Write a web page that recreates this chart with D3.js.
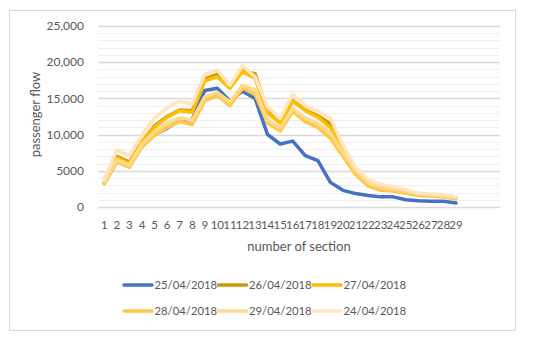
<!DOCTYPE html>
<html lang="en">
  <head>
    <meta charset="utf-8" />
    <title>passenger flow</title>
    <script src="https://cdnjs.cloudflare.com/ajax/libs/d3/7.8.5/d3.min.js"></script>
    <style>
      body { margin: 0; background: #fff; }
      text { font-family: Lato, "Open Sans", sans-serif; fill: #595959; }
    </style>
  </head>
  <body>
    <div id="chart"></div>
    <script>
    // sections 1..29
    var sections = d3.range(1, 30);
    var seriesNames = ["25/04/2018", "26/04/2018", "27/04/2018", "28/04/2018", "29/04/2018", "24/04/2018"];
    var seriesColors = ["#4472c4", "#c99a06", "#ffbf00", "#ffc845", "#ffd98c", "#ffe5c0"];
    var yTicks = [0, 5000, 10000, 15000, 20000, 25000];
    var yTickLabels = ["0", "5000", "10,000", "15,000", "20,000", "25,000"];

    var d25 = [3300, 6500, 5900, 8400, 10000, 10900, 11950, 12100, 16100, 16400, 14600, 16000, 15000, 10000, 8700, 9100, 7100, 6400, 3400, 2300, 1850, 1600, 1400, 1400, 1000, 870, 780, 780, 550];
    var d26 = [3300, 7000, 6200, 9000, 11200, 12500, 13400, 13300, 17700, 18300, 16600, 18800, 18400, 13300, 11800, 14700, 13400, 12600, 11500, 8000, 5100, 3400, 2800, 2600, 2200, 1800, 1700, 1600, 1300];
    var d27 = [3300, 6800, 6000, 9000, 11000, 12400, 13300, 13100, 17400, 18000, 16400, 18700, 17800, 13000, 11600, 14600, 13300, 12400, 11000, 7600, 4800, 3200, 2600, 2400, 2100, 1700, 1600, 1500, 1200];
    var d28 = [3200, 6200, 5500, 8300, 9900, 11000, 11800, 11400, 14700, 15400, 14000, 16400, 15600, 11600, 10500, 13200, 11800, 11000, 9500, 7000, 4500, 2900, 2300, 2200, 1900, 1600, 1500, 1400, 1100];
    var d29 = [3500, 6500, 5800, 8700, 10400, 11600, 12300, 12000, 15200, 15800, 14500, 16800, 16200, 12000, 10900, 13600, 12300, 11500, 10200, 7500, 5000, 3300, 2700, 2500, 2200, 1800, 1700, 1600, 1300];
    var d24 = [3800, 7900, 7100, 10000, 12300, 13700, 14600, 14200, 18300, 18900, 16800, 19500, 18000, 13800, 12200, 15600, 14000, 13200, 12300, 8500, 5500, 3800, 3100, 2800, 2400, 1900, 1800, 1700, 1400];
    var seriesValues = [d25, d26, d27, d28, d29, d24];

    var W = 550, H = 340;
    var margin = {top: 26, right: 50, bottom: 133, left: 98},
        width = W - margin.left - margin.right,
        height = H - margin.top - margin.bottom;

    var svg = d3.select("#chart")
      .append("svg")
        .attr("width", W)
        .attr("height", H);

    // outer frame
    svg.append("rect")
      .attr("x", 9.5).attr("y", 10.5)
      .attr("width", 506).attr("height", 320)
      .attr("fill", "#fff")
      .attr("stroke", "#d9d9d9");

    var g = svg.append("g")
      .attr("transform", "translate(" + margin.left + "," + margin.top + ")");

    // the category axis leaves room for 32 slots, only 29 are used
    var x = d3.scaleBand()
      .domain(sections)
      .range([0, width * 29 / 32]);

    var y = d3.scaleLinear()
      .domain([0, 25000])
      .range([height, 0]);

    // minor gridlines every 1000
    g.selectAll(".minor")
      .data(d3.range(1000, 25000, 1000).filter(function(v){ return v % 5000 != 0; }))
      .enter().append("line")
        .attr("x1", 0).attr("x2", width)
        .attr("y1", function(d){ return Math.round(y(d)) + 0.5; })
        .attr("y2", function(d){ return Math.round(y(d)) + 0.5; })
        .attr("stroke", "#efefef");

    g.selectAll(".major")
      .data(yTicks)
      .enter().append("line")
        .attr("x1", 0).attr("x2", width)
        .attr("y1", function(d){ return Math.round(y(d)) + 0.5; })
        .attr("y2", function(d){ return Math.round(y(d)) + 0.5; })
        .attr("stroke", "#d9d9d9")
        .attr("stroke-width", 1.3);

    // y tick labels
    g.selectAll(".ylab")
      .data(yTicks)
      .enter().append("text")
        .attr("x", -14)
        .attr("y", function(d){ return y(d); })
        .attr("dy", "0.35em")
        .attr("text-anchor", "end")
        .style("font-size", "12px")
        .text(function(d, i){ return yTickLabels[i]; });

    // x tick labels
    g.selectAll(".xlab")
      .data(sections)
      .enter().append("text")
        .attr("x", function(d){ return x(d) + x.bandwidth() / 2; })
        .attr("y", height + 22)
        .attr("text-anchor", "middle")
        .style("font-size", "11.5px")
        .text(function(d){ return d; });

    // axis titles
    g.append("text")
      .attr("x", 201)
      .attr("y", height + 44)
      .attr("text-anchor", "middle")
      .style("font-size", "13px")
      .text("number of section");

    g.append("text")
      .attr("transform", "translate(-58," + (height / 2 - 2) + ") rotate(-90)")
      .attr("text-anchor", "middle")
      .style("font-size", "13px")
      .text("passenger flow");

    var line = d3.line()
      .x(function(d, i){ return x(sections[i]) + x.bandwidth() / 2; })
      .y(function(d){ return y(d); });

    g.selectAll(".series")
      .data(seriesValues)
      .enter().append("path")
        .attr("d", line)
        .attr("fill", "none")
        .attr("stroke", function(d, i){ return seriesColors[i]; })
        .attr("stroke-width", 3.5)
        .attr("stroke-linejoin", "round")
        .attr("stroke-linecap", "round");

    // legend, 3 per row
    var legend = svg.append("g");
    var item = legend.selectAll(".item")
      .data(seriesNames)
      .enter().append("g")
        .attr("transform", function(d, i){
          return "translate(" + (124 + (i % 3) * 94.5) + "," + (285 + Math.floor(i / 3) * 26) + ")";
        });
    item.append("line")
      .attr("x1", 0).attr("x2", 28)
      .attr("stroke", function(d, i){ return seriesColors[i]; })
      .attr("stroke-width", 3.5)
      .attr("stroke-linecap", "round");
    item.append("text")
      .attr("x", 30.5)
      .attr("dy", "0.35em")
      .style("font-size", "11.3px")
      .text(function(d){ return d; });
    </script>
  </body>
</html>
